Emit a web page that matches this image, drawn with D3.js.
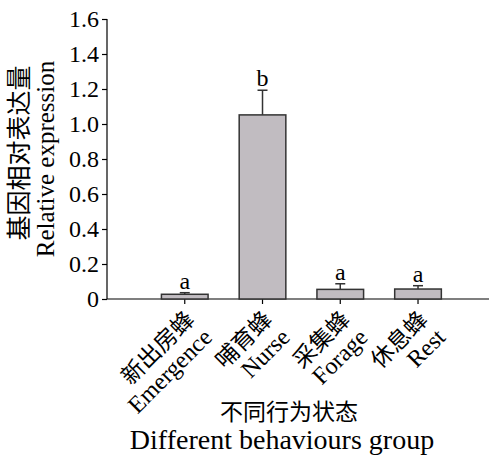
<!DOCTYPE html>
<html>
<head>
<meta charset="utf-8">
<script src="https://cdn.jsdelivr.net/npm/d3@7/dist/d3.min.js"></script>
<style>
  html, body { margin: 0; padding: 0; background: #fff; }
  svg { display: block; }
  text { fill: #000; }
</style>
</head>
<body>
<svg id="chart" width="489" height="456"></svg>
<script>
// Behaviour groups (Chinese + English label lines)
const groupsZh = ["新出房蜂", "哺育蜂", "采集蜂", "休息蜂"];
const groupsEn = ["Emergence", "Nurse", "Forage", "Rest"];
// Mean relative expression and its upper error
const means = [0.027, 1.052, 0.055, 0.057];
const errors = [0.009, 0.141, 0.032, 0.019];
// Significance letters
const letters = ["a", "b", "a", "a"];
// Y-axis ticks
const yTicks = [0, 0.2, 0.4, 0.6, 0.8, 1.0, 1.2, 1.4, 1.6];

const W = 489, H = 456;
const plotL = 107, plotR = 488, plotT = 19, plotB = 299;
const serif = "'Liberation Serif', 'Times New Roman', serif";
const cjk = "'Noto Sans CJK SC', sans-serif";

const svg = d3.select("#chart");

const y = d3.scaleLinear().domain([0, 1.6]).range([plotB, plotT]);
// Category slots: group i sits at slot i + 1
const x = d3.scaleLinear().domain([0, 4.9]).range([plotL, plotR]);
const step = x(1) - x(0);
const barW = step * 0.6;

const data = groupsZh.map((zh, i) => ({
  zh, en: groupsEn[i], mean: means[i], err: errors[i], letter: letters[i], i
}));

// Y axis
const yAxis = d3.axisLeft(y)
  .tickValues(yTicks)
  .tickSize(5)
  .tickPadding(3)
  .tickFormat(d => d === 0 ? "0" : d3.format(".1f")(d));
const gy = svg.append("g").attr("transform", `translate(${plotL},0)`).call(yAxis);
gy.select(".domain").attr("d", `M0,${y(1.6)}V${y(0)}`).attr("stroke", "#000").attr("stroke-width", 1.2);
gy.selectAll(".tick line").attr("stroke", "#000").attr("stroke-width", 1.2);
gy.selectAll(".tick text")
  .attr("font-family", serif).attr("font-size", 24).attr("fill", "#000");

// X axis line + ticks
svg.append("line")
  .attr("x1", plotL).attr("x2", W).attr("y1", y(0)).attr("y2", y(0))
  .attr("stroke", "#000").attr("stroke-width", 1.2);
svg.selectAll(".xtick").data(data).join("line")
  .attr("class", "xtick")
  .attr("x1", d => x(d.i + 1)).attr("x2", d => x(d.i + 1))
  .attr("y1", y(0)).attr("y2", y(0) + 5)
  .attr("stroke", "#000").attr("stroke-width", 1.2);

// Error bars (upper only)
const capW = 10;
const eb = svg.append("g").attr("stroke", "#333").attr("stroke-width", 1.5);
eb.selectAll(".stem").data(data).join("line")
  .attr("class", "stem")
  .attr("x1", d => x(d.i + 1)).attr("x2", d => x(d.i + 1))
  .attr("y1", d => y(d.mean)).attr("y2", d => y(d.mean + d.err));
eb.selectAll(".cap").data(data).join("line")
  .attr("class", "cap")
  .attr("x1", d => x(d.i + 1) - capW / 2).attr("x2", d => x(d.i + 1) + capW / 2)
  .attr("y1", d => y(d.mean + d.err)).attr("y2", d => y(d.mean + d.err));

// Bars
svg.selectAll(".bar").data(data).join("rect")
  .attr("class", "bar")
  .attr("x", d => x(d.i + 1) - barW / 2)
  .attr("width", barW)
  .attr("y", d => y(d.mean))
  .attr("height", d => y(0) - y(d.mean))
  .attr("fill", "#c1bcc1")
  .attr("stroke", "#333")
  .attr("stroke-width", 1.5);

// Significance letters
svg.selectAll(".sig").data(data).join("text")
  .attr("class", "sig")
  .attr("x", d => x(d.i + 1))
  .attr("y", d => y(d.mean + d.err) - 4)
  .attr("text-anchor", "middle")
  .attr("font-family", serif).attr("font-size", 24)
  .text(d => d.letter);

// Rotated category labels
const lab = svg.selectAll(".cat").data(data).join("g")
  .attr("class", "cat")
  .attr("transform", d => `translate(${x(d.i + 1) + 11},${y(0) + 22}) rotate(-45)`);
lab.append("text")
  .attr("text-anchor", "end")
  .attr("font-family", cjk).attr("font-size", 23)
  .text(d => d.zh);
lab.append("text")
  .attr("text-anchor", "end")
  .attr("y", 25)
  .attr("font-family", serif).attr("font-size", 24)
  .text(d => d.en);

// X title
svg.append("text").attr("x", 289).attr("y", 420)
  .attr("text-anchor", "middle").attr("font-family", cjk).attr("font-size", 23)
  .text("不同行为状态");
svg.append("text").attr("x", 282).attr("y", 449)
  .attr("text-anchor", "middle").attr("font-family", serif).attr("font-size", 28)
  .text("Different behaviours group");

// Y title (two rotated lines)
const ym = (y(0) + y(1.6)) / 2;
svg.append("text")
  .attr("transform", `translate(28,${ym - 6}) rotate(-90)`)
  .attr("text-anchor", "middle").attr("font-family", cjk).attr("font-size", 25)
  .text("基因相对表达量");
svg.append("text")
  .attr("transform", `translate(54,${ym}) rotate(-90)`)
  .attr("text-anchor", "middle").attr("font-family", serif).attr("font-size", 25)
  .text("Relative expression");
</script>
</body>
</html>
